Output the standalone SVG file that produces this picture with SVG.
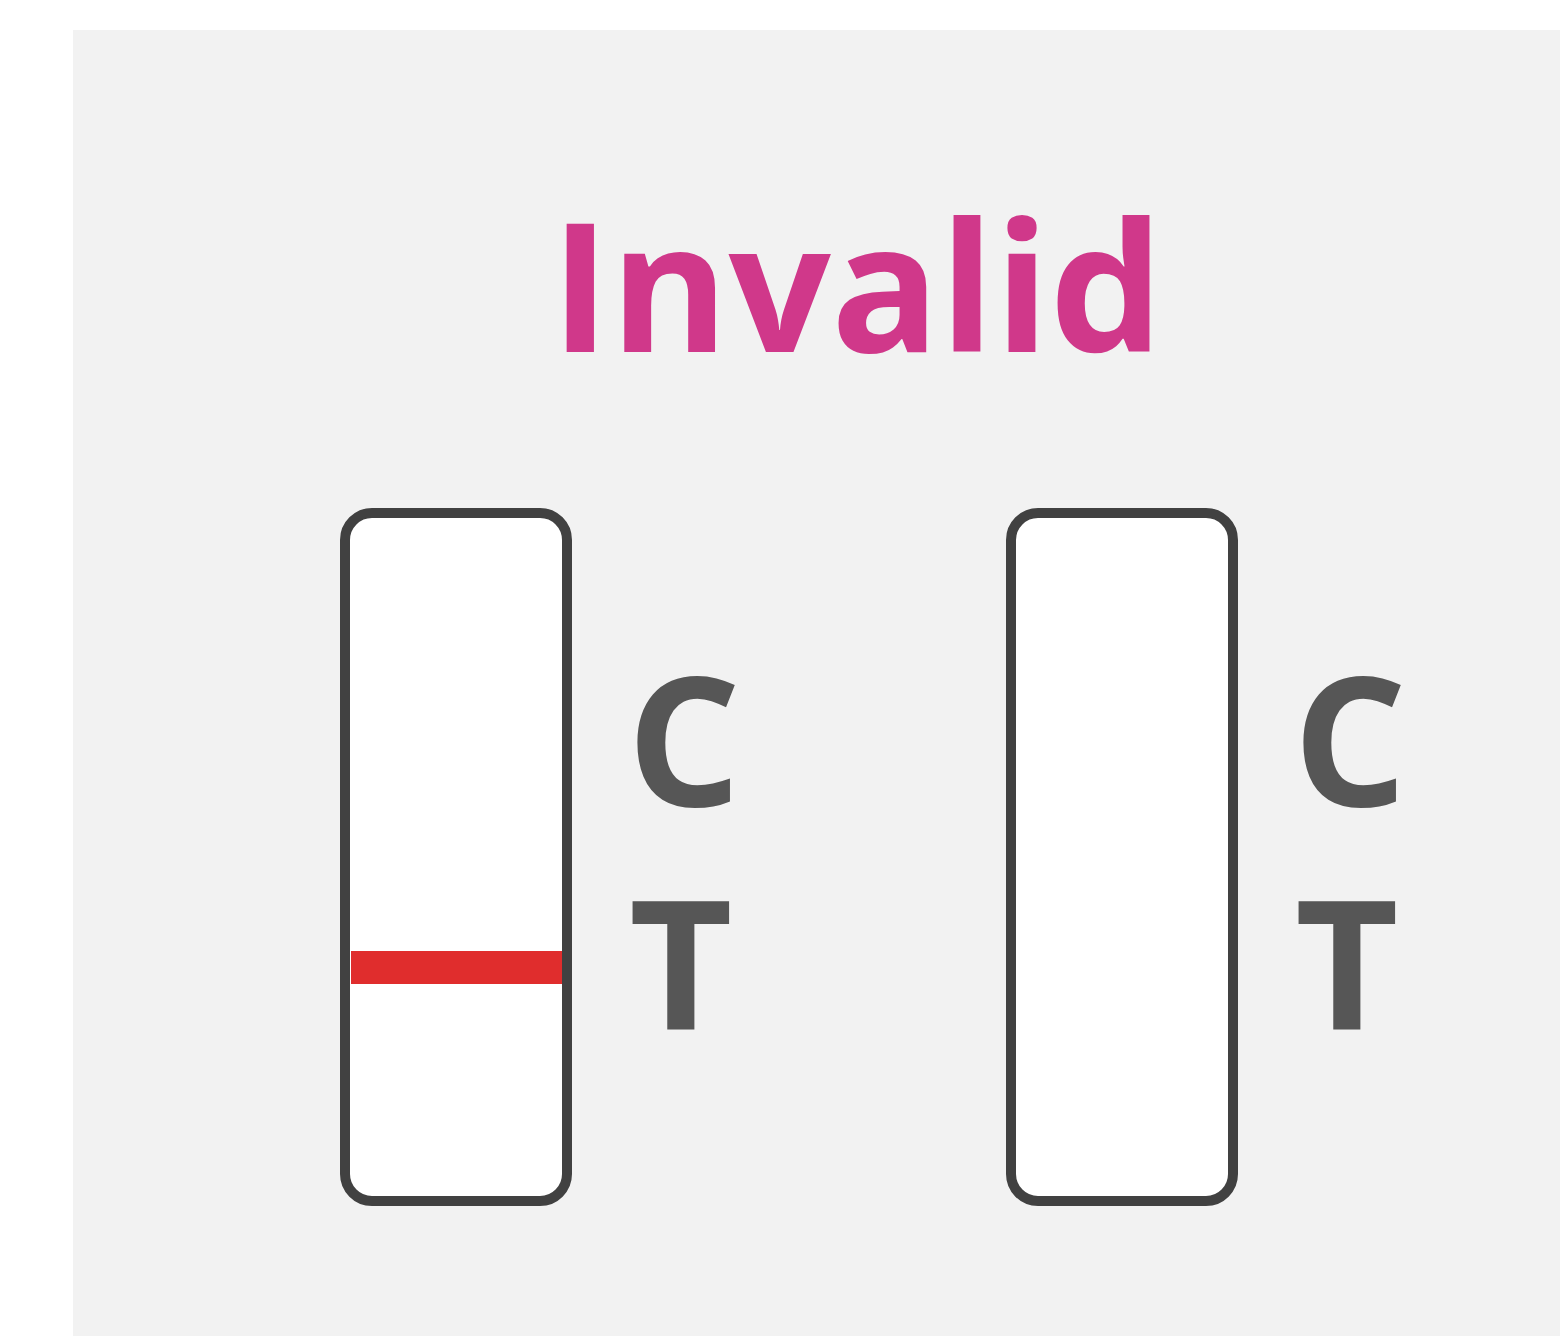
<svg xmlns="http://www.w3.org/2000/svg" width="1560" height="1336" viewBox="0 0 1560 1336">
  <style>
    .strip { fill: #ffffff; stroke: #414141; stroke-width: 10; }
    .lbl { font-family: "Open Sans", "Liberation Sans", sans-serif; font-weight: 700; font-size: 179px; fill: #565656; }
    .title { font-family: "Open Sans", "Liberation Sans", sans-serif; font-weight: 700; font-size: 180px; fill: #d0388a; }
  </style>
  <rect x="0" y="0" width="1560" height="1336" fill="#ffffff"/>
  <rect x="73" y="30" width="1487" height="1306" fill="#f2f2f2"/>
  <g id="title">
    <text class="title" x="857" y="352" text-anchor="middle">Invalid</text>
  </g>
  <g id="strip-left">
    <rect class="strip" x="345" y="513" width="222" height="688" rx="27"/>
    <rect x="351" y="951" width="211" height="33" fill="#e02d2d"/>
    <text class="lbl" x="627" y="806">C</text>
    <text class="lbl" x="629" y="1030">T</text>
  </g>
  <g id="strip-right">
    <rect class="strip" x="1011" y="513" width="222" height="688" rx="27"/>
    <text class="lbl" x="1293" y="806">C</text>
    <text class="lbl" x="1295" y="1030">T</text>
  </g>
</svg>
